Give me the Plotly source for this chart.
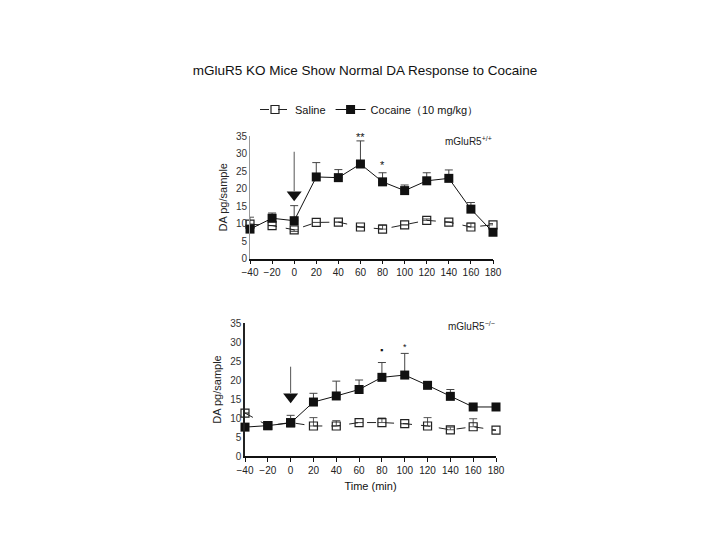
import plotly.graph_objects as go

# ---------------- data ----------------
time_min = [-40, -20, 0, 20, 40, 60, 80, 100, 120, 140, 160, 180]
x_ticks = [-40, -20, 0, 20, 40, 60, 80, 100, 120, 140, 160, 180]
x_tick_labels = ["\u221240", "\u221220", "0", "20", "40", "60", "80", "100", "120", "140", "160", "180"]
y_ticks = [0, 5, 10, 15, 20, 25, 30, 35]

# mGluR5 +/+ (top panel)
wt_cocaine = [8.4, 11.5, 10.8, 23.3, 23.1, 27.0, 21.9, 19.4, 22.2, 22.9, 14.1, 7.5]
wt_cocaine_err = [0, 1.5, 4.3, 4.1, 2.3, 6.6, 2.6, 1.6, 2.3, 2.4, 1.9, 0]
wt_saline = [9.8, 9.4, 8.2, 10.3, 10.4, 9.0, 8.4, 9.6, 10.9, 10.4, 9.0, 9.6]
wt_saline_err_up = [2.0, 0, 0, 0, 0, 0, 1.2, 0, 0.4, 0, 1.1, 0.4]
wt_saline_err_down = [0, 0, 0.5, 0, 0, 0, 0, 0, 0, 0, 0, 0]

# mGluR5 -/- (bottom panel)
ko_cocaine = [7.6, 8.0, 8.7, 14.2, 15.8, 17.5, 20.7, 21.3, 18.6, 15.7, 12.9, 12.9]
ko_cocaine_err = [0, 0, 2.0, 2.3, 3.9, 2.5, 3.9, 5.7, 0, 1.8, 0, 0]
ko_saline = [11.3, 8.0, 8.8, 7.9, 7.9, 8.8, 8.8, 8.5, 7.9, 6.9, 7.7, 6.8]
ko_saline_err_up = [0, 0, 0, 2.2, 1.4, 0, 1.2, 0, 2.2, 0.7, 2.1, 0]

# injection arrows (x, start y, tip y)
arrow_wt = [0, 30.5, 18.2]
arrow_ko = [0, 23.5, 15.6]

# significance marks
sig_wt_x = [60, 80]
sig_wt_y = [34.6, 26.8]
sig_wt_txt = ["**", "*"]
sig_ko_x = [80, 100]
sig_ko_y = [27.8, 28.6]
sig_ko_txt = ["\u25aa", "*"]

FONT = "Liberation Sans, Arial, sans-serif"
W, H, OFF = 720, 540, 8  # page body has an 8px margin


def px(x):
    return (x - OFF) / W


def py(y):
    return 1 - (y - OFF) / H


fig = go.Figure()


def add_panel(xa, ya, coc, coc_err, sal, sal_up, sal_down, show_legend):
    fig.add_trace(go.Scatter(
        x=time_min, y=sal, mode="lines+markers", name="Saline",
        xaxis=xa, yaxis=ya, showlegend=show_legend, cliponaxis=False,
        line=dict(color="#222", width=1, dash="dash"),
        marker=dict(symbol="square-open", size=8, color="#222", line=dict(width=1.2)),
        error_y=dict(type="data", symmetric=False, array=sal_up, arrayminus=sal_down,
                     color="#555", thickness=1, width=4),
    ))
    fig.add_trace(go.Scatter(
        x=time_min, y=coc, mode="lines+markers", name="Cocaine\uff0810 mg/kg\uff09",
        xaxis=xa, yaxis=ya, showlegend=show_legend, cliponaxis=False,
        line=dict(color="#111", width=1),
        marker=dict(symbol="square", size=9, color="#111"),
        error_y=dict(type="data", symmetric=False, array=coc_err,
                     arrayminus=[0] * len(coc_err), color="#444", thickness=1, width=4),
    ))


add_panel("x", "y", wt_cocaine, wt_cocaine_err, wt_saline, wt_saline_err_up, wt_saline_err_down, True)
add_panel("x2", "y2", ko_cocaine, ko_cocaine_err, ko_saline, ko_saline_err_up,
          [0] * len(ko_saline), False)

# arrows
for (ax, ay, arr) in [("x", "y", arrow_wt), ("x2", "y2", arrow_ko)]:
    fig.add_shape(type="line", xref=ax, yref=ay, x0=arr[0], x1=arr[0], y0=arr[1], y1=arr[2] + 1,
                  line=dict(color="#555", width=1))
    fig.add_trace(go.Scatter(x=[arr[0]], y=[arr[2]], mode="markers", xaxis=ax, yaxis=ay,
                             showlegend=False, hoverinfo="skip",
                             marker=dict(symbol="triangle-down", size=13, color="#111")))

# significance
for sx, sy, st in zip(sig_wt_x, sig_wt_y, sig_wt_txt):
    fig.add_annotation(x=sx, y=sy, xref="x", yref="y", text=st, showarrow=False,
                       font=dict(family=FONT, size=11, color="#111"))
for sx, sy, st in zip(sig_ko_x, sig_ko_y, sig_ko_txt):
    fig.add_annotation(x=sx, y=sy, xref="x2", yref="y2", text=st, showarrow=False,
                       font=dict(family=FONT, size=9, color="#111"))

# genotype labels
fig.add_annotation(x=px(494), y=py(133), xref="paper", yref="paper", xanchor="right",
                   text="mGluR5<sup>+/+</sup>", showarrow=False,
                   font=dict(family=FONT, size=10, color="#222"))
fig.add_annotation(x=px(497), y=py(326), xref="paper", yref="paper", xanchor="right",
                   text="mGluR5<sup>\u2212/\u2212</sup>", showarrow=False,
                   font=dict(family=FONT, size=10, color="#222"))

xaxis_common = dict(range=[-40, 180], tickvals=x_ticks, ticktext=x_tick_labels,
                    showgrid=False, zeroline=False, showline=True, linecolor="#111",
                    linewidth=1.5, ticks="outside", ticklen=4, tickcolor="#111",
                    tickfont=dict(family=FONT, size=10, color="#222"))
yaxis_common = dict(range=[0, 35], tickvals=y_ticks, showgrid=False, zeroline=False,
                    showline=True, ticks="", tickfont=dict(family=FONT, size=10, color="#333"),
                    title=dict(text="DA pg/sample", font=dict(family=FONT, size=11, color="#222"),
                               standoff=6))

fig.update_layout(
    width=W, height=H,
    paper_bgcolor="white", plot_bgcolor="white",
    margin=dict(l=0, r=0, t=0, b=0, autoexpand=False),
    title=dict(text="mGluR5 KO Mice Show Normal DA Response to Cocaine",
               x=px(365), xanchor="center", y=py(70), yanchor="middle",
               font=dict(family=FONT, size=13.5, color="#111")),
    xaxis=dict(domain=[px(250), px(493)], anchor="y", **xaxis_common),
    yaxis=dict(domain=[py(258.5), py(136)], anchor="x", linecolor="#999",
               linewidth=1, **yaxis_common),
    xaxis2=dict(domain=[px(245), px(496)], anchor="y2",
                title=dict(text="Time (min)", font=dict(family=FONT, size=11, color="#111"),
                           standoff=8),
                **xaxis_common),
    yaxis2=dict(domain=[py(456), py(323)], anchor="x2", linecolor="#222",
                linewidth=1.5, **yaxis_common),
    legend=dict(orientation="h", x=px(255), y=py(95), xanchor="left", yanchor="top",
                font=dict(family=FONT, size=11, color="#111"), bgcolor="rgba(0,0,0,0)",
                itemwidth=30, tracegroupgap=0),
)

fig.write_html("out.html")
